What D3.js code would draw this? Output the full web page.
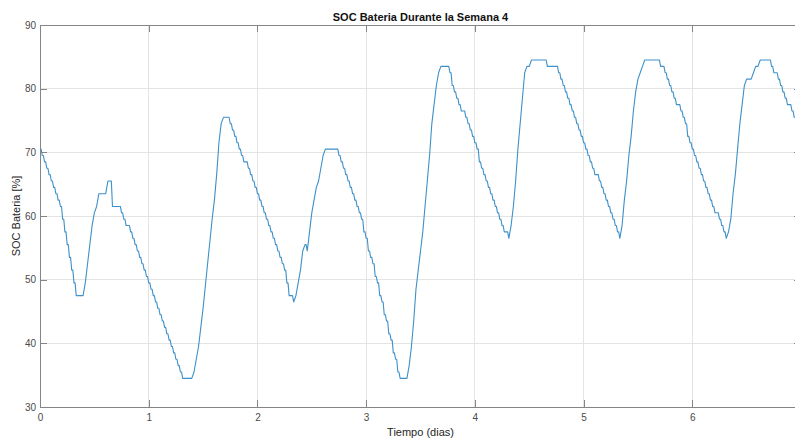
<!DOCTYPE html>
<html>
<head>
<meta charset="utf-8">
<script src="https://cdn.jsdelivr.net/npm/d3@7/dist/d3.min.js"></script>
<style>
  html, body { margin: 0; padding: 0; background: #fff; }
  svg { display: block; font-family: "Liberation Sans", Arial, Helvetica, sans-serif; }
</style>
</head>
<body>
<script>
// Battery state of charge (%), sampled every half hour, one array per day of week 4
const stepHours = 0.5;
const day0 = [70.5,69.5,68.5,67.5,66.5,65.5,64.5,63.5,62.5,61.5,59.5,57.5,55.5,53.5,51.5,49.5,
              47.5,47.5,47.5,47.5,49.5,52.5,55.5,58.5,60.5,61.5,63.5,63.5,63.5,63.5,65.5,65.5,
              61.5,61.5,61.5,61.5,60.5,59.5,58.5,58.5,57.5,56.5,55.5,54.5,53.5,52.5,51.5,50.5];
const day1 = [49.5,48.5,47.5,46.5,45.5,44.5,43.5,42.5,41.5,40.5,39.5,38.5,37.5,36.5,35.5,34.5,
              34.5,34.5,34.5,34.5,35.5,37.5,39.5,42.5,45.5,49,52.5,56,59.5,62.5,66.5,71.5,
              74.5,75.5,75.5,75.5,74.5,73.5,72.5,71.5,70.5,69.5,68.5,68.5,67.5,66.5,65.5,64.5];
const day2 = [63.5,62.5,61.5,60.5,59.5,58.5,57.5,56.5,55.5,54.5,53.5,52.5,51.5,49.5,47.5,47.5,
              46.5,47.5,49.5,51.5,54.5,55.5,54.5,57.5,60.5,62.5,64.5,65.5,67.5,69.5,70.5,70.5,
              70.5,70.5,70.5,70.5,69.5,68.5,67.5,66.5,65.5,64.5,63.5,62.5,61.5,60.5,59.5,57.5];
const day3 = [56.5,54.5,53.5,52.5,50.5,49.5,47.5,46.5,44.5,43.5,41.5,40.5,38.5,37.5,35.5,34.5,
              34.5,34.5,34.5,36.5,39.5,43.5,48.5,51.5,54.5,57.5,61.5,65.5,69.5,74.5,77.5,80.5,
              82.5,83.5,83.5,83.5,83.5,82.5,80.5,79.5,78.5,77.5,76.5,76.5,75.5,74.5,73.5,72.5];
const day4 = [71.5,70.5,68.5,67.5,66.5,65.5,64.5,63.5,62.5,61.5,60.5,59.5,58.5,57.5,57.5,56.5,
              58.5,61.5,65.5,70.5,74.5,78.5,82.5,83.5,83.5,84.5,84.5,84.5,84.5,84.5,84.5,84.5,
              83.5,83.5,83.5,83.5,83.5,82.5,81.5,80.5,79.5,78.5,77.5,76.5,75.5,74.5,73.5,72.5];
const day5 = [71.5,70.5,69.5,68.5,67.5,66.5,66.5,65.5,64.5,63.5,62.5,61.5,60.5,59.5,58.5,57.5,
              56.5,58.5,62.5,65.5,69.5,72.5,76.5,79.5,81.5,82.5,83.5,84.5,84.5,84.5,84.5,84.5,
              84.5,84.5,83.5,83.5,82.5,81.5,80.5,79.5,78.5,77.5,77.5,76.5,75.5,74.5,72.5,71.5];
const day6 = [70.5,69.5,68.5,67.5,66.5,65.5,64.5,63.5,62.5,61.5,60.5,60.5,59.5,58.5,57.5,56.5,
              57.5,59.5,63.5,66.5,70.5,74.5,77.5,80.5,81.5,81.5,81.5,82.5,83.5,83.5,84.5,84.5,
              84.5,84.5,84.5,83.5,82.5,82.5,81.5,80.5,79.5,78.5,77.5,77.5,76.5,75.5,74.5,73.5];

const xTicks = [0, 1, 2, 3, 4, 5, 6];
const yTicks = [30, 40, 50, 60, 70, 80, 90];
const xDomain = [0, 7];
const yDomain = [30, 90];

const titleText = "SOC Bateria Durante la Semana 4";
const xLabelText = "Tiempo (dias)";
const yLabelText = "SOC Bateria [%]";

// Flatten the days into one time series (time in days)
const series = [day0, day1, day2, day3, day4, day5, day6]
  .flat()
  .map((v, i) => ({ t: i * stepHours / 24, v }));

const W = 795, H = 443;
const plotLeft = 40, plotRight = 801, plotTop = 25, plotBottom = 407;

const x = d3.scaleLinear().domain(xDomain).range([plotLeft, plotRight]);
const y = d3.scaleLinear().domain(yDomain).range([plotBottom, plotTop]);

const svg = d3.select("body").append("svg").attr("width", W).attr("height", H);
svg.append("rect").attr("width", W).attr("height", H).attr("fill", "#fff");

svg.append("defs").append("clipPath").attr("id", "plot-clip")
  .append("rect").attr("x", plotLeft).attr("y", plotTop)
  .attr("width", plotRight - plotLeft).attr("height", plotBottom - plotTop);

// Grid
const grid = svg.append("g").attr("shape-rendering", "crispEdges")
  .attr("stroke", "#e4e4e4").attr("stroke-width", 1);
grid.selectAll(".gx").data(xTicks.filter(d => d > xDomain[0])).join("line")
  .attr("x1", d => x(d)).attr("x2", d => x(d)).attr("y1", plotTop).attr("y2", plotBottom);
grid.selectAll(".gy").data(yTicks.filter(d => d > yDomain[0] && d < yDomain[1])).join("line")
  .attr("x1", plotLeft).attr("x2", plotRight).attr("y1", d => y(d)).attr("y2", d => y(d));

// Discharge intervals: hold the sample for half an interval, then ramp down.
// Charging intervals: straight ramp up.
function curveHoldRamp(context) {
  let px, py, n;
  return {
    areaStart() {}, areaEnd() {},
    lineStart() { n = 0; },
    lineEnd() {},
    point(xv, yv) {
      xv = +xv; yv = +yv;
      if (n === 0) context.moveTo(xv, yv);
      else {
        if (yv >= py) context.lineTo((px + xv) / 2, py); // screen y grows downward
        context.lineTo(xv, yv);
      }
      px = xv; py = yv; n++;
    }
  };
}

const line = d3.line().x(d => x(d.t)).y(d => y(d.v)).curve(curveHoldRamp);

svg.append("path").datum(series)
  .attr("clip-path", "url(#plot-clip)")
  .attr("fill", "none")
  .attr("stroke", "#3d90c9")
  .attr("stroke-width", 1.1)
  .attr("stroke-linejoin", "round")
  .attr("d", line);

// Axes (box with inward ticks)
const axisColor = "#858585";
const tickLabelColor = "#4a4a4a";
function styleAxis(g) {
  g.attr("shape-rendering", "crispEdges");
  g.select(".domain").attr("stroke", axisColor);
  g.selectAll(".tick line").attr("stroke", axisColor);
  g.selectAll(".tick text").attr("fill", tickLabelColor)
    .attr("font-size", 10).attr("font-family", "Liberation Sans, Arial, sans-serif");
}

svg.append("g").attr("transform", `translate(0,${plotBottom})`)
  .call(d3.axisBottom(x).tickValues(xTicks).tickFormat(d3.format("d"))
    .tickSizeInner(-7).tickSizeOuter(0).tickPadding(7))
  .call(styleAxis);
svg.append("g").attr("transform", `translate(0,${plotTop})`)
  .call(d3.axisTop(x).tickValues(xTicks).tickFormat("")
    .tickSizeInner(-7).tickSizeOuter(0))
  .call(styleAxis);
svg.append("g").attr("transform", `translate(${plotLeft},0)`)
  .call(d3.axisLeft(y).tickValues(yTicks).tickFormat(d3.format("d"))
    .tickSizeInner(-7).tickSizeOuter(0).tickPadding(4))
  .call(styleAxis);
svg.append("g").attr("transform", `translate(${plotRight},0)`)
  .call(d3.axisRight(y).tickValues(yTicks).tickFormat("")
    .tickSizeInner(-7).tickSizeOuter(0))
  .call(styleAxis);

// Titles
svg.append("text")
  .attr("x", (plotLeft + plotRight) / 2).attr("y", 20.5)
  .attr("text-anchor", "middle")
  .attr("font-size", 11).attr("font-weight", "bold").attr("fill", "#111")
  .text(titleText);

svg.append("text")
  .attr("x", (plotLeft + plotRight) / 2).attr("y", 436)
  .attr("text-anchor", "middle")
  .attr("font-size", 11).attr("fill", "#262626")
  .text(xLabelText);

svg.append("text")
  .attr("transform", `translate(19.6,${(plotTop + plotBottom) / 2}) rotate(-90)`)
  .attr("text-anchor", "middle")
  .attr("font-size", 11).attr("fill", "#262626")
  .text(yLabelText);
</script>
</body>
</html>
